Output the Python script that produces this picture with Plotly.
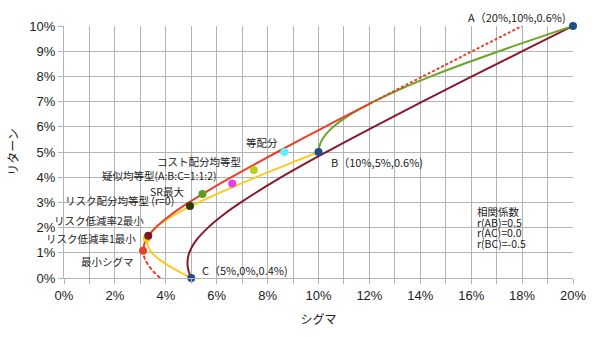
import plotly.graph_objects as go
import numpy as np

# ---- data (percent) ----
# A-B two-asset curve (green)
ab_sigma = [10.0, 10.04, 10.15, 10.33, 10.58, 11.27, 12.17, 13.23, 14.42, 15.72, 17.09, 18.52, 20.0]
ab_ret   = [5.0, 5.25, 5.5, 5.75, 6.0, 6.5, 7.0, 7.5, 8.0, 8.5, 9.0, 9.5, 10.0]
# A-C two-asset curve (maroon)
ac_sigma = [5.0, 4.89, 4.85, 4.92, 5.20, 5.66, 6.25, 6.95, 8.54, 10.31, 12.17, 14.08, 16.03, 18.01, 20.0]
ac_ret   = [0.0, 0.3, 0.6, 1.0, 1.5, 2.0, 2.5, 3.0, 4.0, 5.0, 6.0, 7.0, 8.0, 9.0, 10.0]
# B-C two-asset curve (yellow)
bc_sigma = [5.0, 4.52, 4.09, 3.73, 3.46, 3.31, 3.27, 3.38, 3.61, 4.33, 5.29, 6.38, 7.55, 8.76, 10.0]
bc_ret   = [0.0, 0.25, 0.5, 0.75, 1.0, 1.25, 1.43, 1.75, 2.0, 2.5, 3.0, 3.5, 4.0, 4.5, 5.0]
# three-asset frontier (red): lower dashed part, solid part, upper dotted part
fr_low_sigma = [3.78, 3.52, 3.32, 3.18, 3.11, 3.105]
fr_low_ret   = [0.0, 0.25, 0.5, 0.75, 1.0, 1.084]
fr_mid_sigma = [3.105, 3.21, 3.60, 4.19, 4.91, 5.72, 6.58, 7.47, 8.38, 9.31, 10.25, 11.21, 12.02]
fr_mid_ret   = [1.084, 1.5, 2.0, 2.5, 3.0, 3.5, 4.0, 4.5, 5.0, 5.5, 6.0, 6.5, 6.92]
fr_up_sigma  = [12.02, 13.13, 14.10, 15.07, 16.04, 17.02, 18.0]
fr_up_ret    = [6.92, 7.5, 8.0, 8.5, 9.0, 9.5, 10.0]

# assets
asset_names = ["A（20%,10%,0.6%)", "B（10%,5%,0.6%)", "C（5%,0%,0.4%)"]
asset_sigma = [20.0, 10.0, 5.0]
asset_ret   = [10.0, 5.0, 0.0]

# special portfolios
pt_names = ["最小シグマ", "リスク低減率1最小", "リスク低減率2最小", "リスク配分均等型 (r=0)",
            "SR最大", "疑似均等型(A:B:C=1:1:2)", "コスト配分均等型", "等配分"]
pt_sigma = [3.105, 3.25, 3.31, 4.95, 5.44, 6.61, 7.46, 8.66]
pt_ret   = [1.084, 1.57, 1.68, 2.86, 3.33, 3.75, 4.29, 5.0]
pt_colors = ["#e8412a", "#f7c81c", "#7a1828", "#2e3b0a", "#5c9e1e", "#e83ce8", "#b8cf1e", "#5ff0ff"]
# label placement (anchor, xshift, yshift) in pixels
pt_label_pos = [("right", -7, -11), ("right", -9, 0), ("right", -2, 15), ("right", -14, 5),
                ("right", -16, 3), ("right", -13, 8), ("right", -11, 8), ("center", -22, 10)]

corr_lines = ["相関係数", "r(AB)=0.5", "r(AC)=0.0", "r(BC)=-0.5"]

P = lambda v: np.array(v) / 100.0

RED = "#e8412a"
GREEN = "#6aa52a"
MAROON = "#861a2c"
YELLOW = "#f9cb1f"
NAVY = "#1d4f8c"

fig = go.Figure()
fig.add_trace(go.Scatter(x=P(ac_sigma), y=P(ac_ret), mode="lines",
                         line=dict(color=MAROON, width=2, shape="spline"), hoverinfo="skip"))
fig.add_trace(go.Scatter(x=P(bc_sigma), y=P(bc_ret), mode="lines",
                         line=dict(color=YELLOW, width=2, shape="spline"), hoverinfo="skip"))
fig.add_trace(go.Scatter(x=P(ab_sigma), y=P(ab_ret), mode="lines",
                         line=dict(color=GREEN, width=2, shape="spline"), hoverinfo="skip"))
fig.add_trace(go.Scatter(x=P(fr_low_sigma), y=P(fr_low_ret), mode="lines",
                         line=dict(color=RED, width=2, dash="4px,2px", shape="spline"), hoverinfo="skip"))
fig.add_trace(go.Scatter(x=P(fr_mid_sigma), y=P(fr_mid_ret), mode="lines",
                         line=dict(color=RED, width=2, shape="spline"), hoverinfo="skip"))
fig.add_trace(go.Scatter(x=P(fr_up_sigma), y=P(fr_up_ret), mode="lines",
                         line=dict(color=RED, width=2, dash="3px,2px", shape="spline"), hoverinfo="skip"))

fig.add_trace(go.Scatter(x=P(pt_sigma), y=P(pt_ret), mode="markers",
                         marker=dict(color=pt_colors, size=8), cliponaxis=False))
fig.add_trace(go.Scatter(x=P(asset_sigma), y=P(asset_ret), mode="markers",
                         marker=dict(color=NAVY, size=8), cliponaxis=False))

LABEL_FONT = dict(family="Noto Sans CJK JP, Liberation Sans, sans-serif", size=10.5, color="#222")
L, R, T, B = 64, 27, 26, 57
W, H = 600 - L - R, 337 - T - B

ann = []
# asset labels
asset_label_pos = [("right", -5, 9), ("left", 10, -10), ("left", 9, 8)]
for n, sx, ry, (anc, xs, ys) in zip(asset_names, asset_sigma, asset_ret, asset_label_pos):
    ann.append(dict(x=sx / 100, y=ry / 100, xref="x", yref="y", text=n, showarrow=False,
                    xanchor=anc, yanchor="middle", xshift=xs, yshift=ys,
                    font=dict(family="Noto Sans CJK JP, Liberation Sans, sans-serif", size=11, color="#222")))
for n, sx, ry, (anc, xs, ys) in zip(pt_names, pt_sigma, pt_ret, pt_label_pos):
    ann.append(dict(x=sx / 100, y=ry / 100, xref="x", yref="y", text=n, showarrow=False,
                    xanchor=anc, yanchor="middle", xshift=xs, yshift=ys, font=LABEL_FONT))
# correlation note: top-left corner pixel position (475, 213), line spacing ~10.6 px
for i, t in enumerate(corr_lines):
    px, py = 475, 213 + i * 10.6
    ann.append(dict(x=(px - L) / W, y=(337 - py - B) / H, xref="paper", yref="paper", text=t,
                    showarrow=False, xanchor="left", yanchor="middle", font=LABEL_FONT))

GRID = "#b4b4b4"
TICKFONT = dict(family="Liberation Sans, Arial, sans-serif", size=13, color="#222")
fig.update_layout(
    width=600, height=337,
    margin=dict(l=L, r=R, t=T, b=B),
    paper_bgcolor="white", plot_bgcolor="white",
    showlegend=False,
    annotations=ann,
    xaxis=dict(range=[0, 0.2], dtick=0.02, tickformat=".0%", showgrid=True, gridcolor=GRID, gridwidth=1,
               showline=True, linecolor=GRID, linewidth=1, ticks="outside", ticklen=5, tickcolor=GRID,
               minor=dict(dtick=0.01, showgrid=True, gridcolor=GRID, ticks="outside", ticklen=5, tickcolor=GRID),
               zeroline=False, tickfont=TICKFONT,
               title=dict(text="シグマ", standoff=14,
                          font=dict(family="Noto Sans CJK JP, sans-serif", size=12, color="#222"))),
    yaxis=dict(range=[0, 0.1], dtick=0.01, tickformat=".0%", showgrid=True, gridcolor=GRID, gridwidth=1,
               showline=True, linecolor=GRID, linewidth=1, ticks="outside", ticklen=5, tickcolor=GRID,
               zeroline=False, tickfont=TICKFONT,
               title=dict(text="リターン", standoff=8,
                          font=dict(family="Noto Sans CJK JP, sans-serif", size=12, color="#222"))),
)
fig.write_html("out.html")
